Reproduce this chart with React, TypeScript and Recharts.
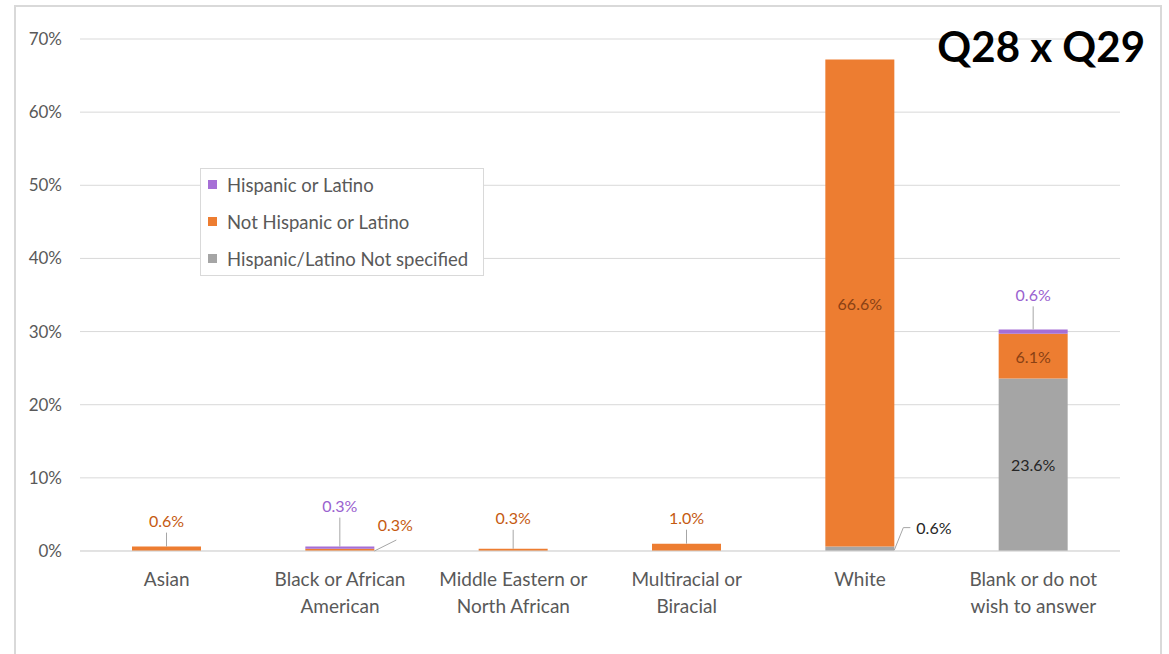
import { BarChart, Bar, XAxis, YAxis, CartesianGrid, Legend, LabelList } from 'recharts'

const categories = [
  'Asian',
  'Black or African\nAmerican',
  'Middle Eastern or\nNorth African',
  'Multiracial or\nBiracial',
  'White',
  'Blank or do not\nwish to answer',
]
const hispanic = [0, 0.3, 0, 0, 0, 0.6]
const notHispanic = [0.6, 0.3, 0.3, 1.0, 66.6, 6.1]
const notSpecified = [0, 0, 0, 0, 0.6, 23.6]
const yTicks = [0, 10, 20, 30, 40, 50, 60, 70]

const series = [
  { key: 'hisp', name: 'Hispanic or Latino', color: '#A66FD6', labelColor: '#9A62CF', values: hispanic },
  { key: 'notHisp', name: 'Not Hispanic or Latino', color: '#ED7D31', labelColor: '#C55A11', values: notHispanic },
  { key: 'notSpec', name: 'Hispanic/Latino Not specified', color: '#A5A5A5', labelColor: '#262626', values: notSpecified },
]

const data = categories.map((c, i) => ({
  category: c,
  hisp: hispanic[i],
  notHisp: notHispanic[i],
  notSpec: notSpecified[i],
}))

// how each small label is called out (everything else sits centred inside its bar)
const callouts: Record<string, { kind: string; rise?: number }> = {
  'notHisp|0': { kind: 'above', rise: 26 },
  'hisp|1': { kind: 'above', rise: 41 },
  'notHisp|1': { kind: 'right' },
  'notHisp|2': { kind: 'above', rise: 31 },
  'notHisp|3': { kind: 'above', rise: 26 },
  'notSpec|4': { kind: 'elbow' },
  'hisp|5': { kind: 'above', rise: 35 },
}

const FONT = 'Lato, "Open Sans", sans-serif'
const leader = '#A6A6A6'

// labels of zero-height bars are skipped, so map the label index back to the category
function categoryIndex(values: number[], index: number, value: number) {
  if (values[index] === value) {
    const nonZeroBefore = values.slice(0, index).filter((v) => v !== 0).length
    if (nonZeroBefore !== index) return index
  }
  let n = -1
  for (let i = 0; i < values.length; i++) {
    if (values[i] !== 0) n++
    if (n === index) return i
  }
  return index
}

function renderLabel(key: string, props: any) {
  const { x, y, width, height, value, index } = props
  if (!value) return null
  const text = `${Number(value).toFixed(1)}%`
  const s = series.find((d) => d.key === key)!
  const ci = categoryIndex(s.values, index, Number(value))
  const c = callouts[`${key}|${ci}`]
  const base = { fontSize: 16, fontFamily: FONT, dominantBaseline: 'central' as const }
  if (!c) {
    const inside = key === 'notHisp' ? '#8A4114' : s.labelColor
    return (
      <text x={x + width / 2} y={y + height / 2} textAnchor="middle" fill={inside} {...base}>
        {text}
      </text>
    )
  }
  if (c.kind === 'above') {
    const cx = x + width / 2
    const ty = y - (c.rise || 26)
    return (
      <g>
        <line x1={cx} y1={y} x2={cx} y2={ty + 12} stroke={leader} strokeWidth={1} />
        <text x={cx} y={ty} textAnchor="middle" fill={s.labelColor} {...base}>{text}</text>
      </g>
    )
  }
  if (c.kind === 'right') {
    const rx = x + width
    const by = y + height
    return (
      <g>
        <line x1={rx} y1={by} x2={rx + 22} y2={by - 11} stroke={leader} strokeWidth={1} />
        <text x={rx + 21} y={by - 27} textAnchor="middle" fill={s.labelColor} {...base}>{text}</text>
      </g>
    )
  }
  // elbow
  const rx = x + width
  const ty = y - 19
  return (
    <g>
      <polyline points={`${rx},${y + height - 1} ${rx + 9},${ty} ${rx + 16},${ty}`} fill="none" stroke={leader} strokeWidth={1} />
      <text x={rx + 22} y={ty} textAnchor="start" fill={s.labelColor} {...base}>{text}</text>
    </g>
  )
}

function CategoryTick({ x, y, payload }: any) {
  const lines = String(payload.value).split('\n')
  return (
    <text x={x} y={y} textAnchor="middle" fill="#595959" fontSize={19} fontFamily={FONT}>
      {lines.map((l, i) => (
        <tspan key={i} x={x} dy={i === 0 ? 27 : 27}>{l}</tspan>
      ))}
    </text>
  )
}

function LegendBox() {
  return (
    <div style={{ border: '1px solid #D9D9D9', background: '#fff', height: 108, paddingLeft: 7, fontFamily: FONT, boxSizing: 'border-box' }}>
      <div style={{ marginTop: -3 }}>
        {series.map((s) => (
          <div key={s.key} style={{ display: 'flex', alignItems: 'center', height: 37, fontSize: 18.5, color: '#595959', whiteSpace: 'nowrap' }}>
            <span style={{ width: 9, height: 9, background: s.color, marginRight: 10, display: 'inline-block' }} />
            {s.name}
          </div>
        ))}
      </div>
    </div>
  )
}

export default function App() {
  return (
    <div style={{ position: 'absolute', left: 0, top: 0, width: 1169, height: 654, background: '#fff', overflow: 'hidden' }}>
      <BarChart
        width={1169}
        height={654}
        data={data}
        margin={{ top: 39, right: 49, left: 20, bottom: 33 }}
        barCategoryGap="30%"
      >
        <CartesianGrid vertical={false} stroke="#D9D9D9" />
        <XAxis
          dataKey="category"
          tick={<CategoryTick />}
          tickLine={false}
          axisLine={{ stroke: '#D9D9D9' }}
          interval={0}
          height={70}
        />
        <YAxis
          domain={[0, 70]}
          ticks={yTicks}
          tickFormatter={(v: number) => `${v}%`}
          tick={{ fill: '#595959', fontSize: 17, fontFamily: FONT }}
          tickLine={false}
          axisLine={false}
          tickMargin={12}
          width={60}
        />
        <Legend
          layout="vertical"
          align="center"
          verticalAlign="middle"
          content={<LegendBox />}
          wrapperStyle={{ left: 200, top: 168, width: 284 }}
        />
        {[...series].reverse().map((s) => (
          <Bar key={s.key} dataKey={s.key} name={s.name} stackId="a" fill={s.color} isAnimationActive={false}>
            <LabelList dataKey={s.key} content={(p: any) => renderLabel(s.key, p)} />
          </Bar>
        ))}
      </BarChart>
      <svg width={1169} height={654} style={{ position: 'absolute', left: 0, top: 0, pointerEvents: 'none' }}>
        <polyline points="15,660 15,6 1161,6 1161,660" fill="none" stroke="#D9D9D9" strokeWidth={2} />
        <text x={1145} y={62} textAnchor="end" fontSize={42} fontWeight="bold" fontFamily={FONT} fill="#000">
          Q28 x Q29
        </text>
      </svg>
    </div>
  )
}
